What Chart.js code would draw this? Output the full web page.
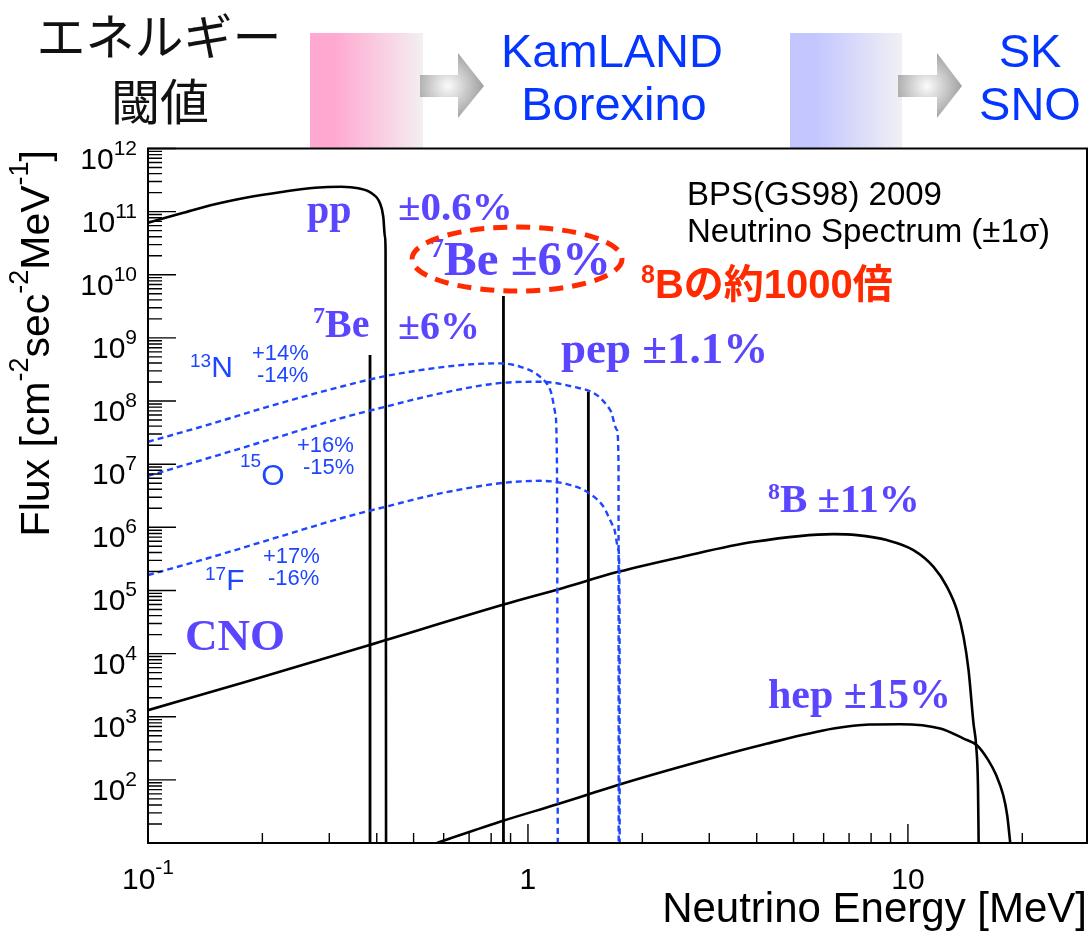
<!DOCTYPE html>
<html>
<head>
<meta charset="utf-8">
<script src="https://cdn.jsdelivr.net/npm/chart.js@4.4.1/dist/chart.umd.min.js"></script>
<style>
  html, body { margin: 0; padding: 0; background: #fff; }
  #wrap { width: 1090px; height: 936px; }
</style>
</head>
<body>
<div id="wrap"><canvas id="c" width="1090" height="936"></canvas></div>
<script>
// Solar neutrino spectra, BPS (GS98) 2009.
// Energy in MeV, flux in cm^-2 s^-1 MeV^-1 (lines: cm^-2 s^-1).
const ppEnergy  = [0.100, 0.1226, 0.150, 0.1836, 0.2247, 0.275, 0.323, 0.3576, 0.3878, 0.4078, 0.4161, 0.4204, 0.4219, 0.4232];
const ppFlux    = [6.67e10, 9.40e10, 1.31e11, 1.69e11, 2.05e11, 2.39e11, 2.48e11, 2.34e11, 1.95e11, 1.36e11, 8.3e10, 4.0e10, 2.47e10, 10];

const be7Energy = [0.384, 0.862];
const be7Flux   = [5.35e8, 4.6e9];
const pepEnergy = [1.442];
const pepFlux   = [1.40e8];

const n13Energy = [0.100, 0.1429, 0.2140, 0.3207, 0.4211, 0.5877, 0.7192, 0.8454, 0.9544, 1.077, 1.145, 1.180, 1.192, 1.198];
const n13Flux   = [2.26e7, 4.16e7, 8.63e7, 1.68e8, 2.48e8, 3.41e8, 3.85e8, 3.95e8, 3.49e8, 2.42e8, 1.49e8, 6.37e7, 1.03e7, 10];

const o15Energy = [0.100, 0.1429, 0.2140, 0.3207, 0.4211, 0.5877, 0.8627, 1.077, 1.318, 1.519, 1.647, 1.715, 1.731, 1.733];
const o15Flux   = [6.53e6, 1.23e7, 2.56e7, 5.31e7, 8.11e7, 1.32e8, 1.95e8, 2.02e8, 1.68e8, 1.24e8, 7.18e7, 3.47e7, 1.03e7, 10];

const f17Energy = [0.100, 0.1429, 0.2140, 0.3207, 0.4211, 0.5877, 0.8627, 1.077, 1.267, 1.430, 1.581, 1.680, 1.731, 1.742, 1.743];
const f17Flux   = [1.75e5, 3.21e5, 6.66e5, 1.38e6, 2.11e6, 3.44e6, 5.06e6, 5.45e6, 4.83e6, 3.65e6, 2.11e6, 1.02e6, 4.35e5, 4.87e4, 10];

const b8Energy  = [0.100, 0.1803, 0.3812, 0.868, 1.199, 1.728, 2.535, 3.94, 6.37, 7.34, 8.80, 10.34, 11.68, 12.67, 13.46, 14.01, 14.44, 14.88, 15.13, 15.29, 15.35];
const b8Flux    = [1.27e3, 3.56e3, 1.36e4, 6.05e4, 1.04e5, 1.97e5, 3.40e5, 5.89e5, 7.80e5, 7.52e5, 6.27e5, 4.35e5, 2.36e5, 1.14e5, 4.87e4, 1.84e4, 5.46e3, 780, 332, 77, 10];

const hepEnergy = [0.576, 0.856, 1.194, 1.439, 1.741, 2.605, 4.27, 6.37, 7.93, 9.54, 12.16, 14.01, 15.19, 16.27, 17.08, 17.82, 18.25, 18.59];
const hepFlux   = [10, 22.3, 41.0, 58.5, 84.2, 170, 376, 650, 752, 760, 650, 451, 353, 205, 118, 57.0, 27.5, 10];

// Axis ranges and tick labels
const xRange = [0.1, 29.6];
const yRange = [10, 1e12];
const xTickValues = [0.1, 1, 10];
const xTickTexts  = [['10', '-1'], ['1', ''], ['10', '']];
const yTickExponents = [2, 3, 4, 5, 6, 7, 8, 9, 10, 11, 12];
const yMajorExponents = [1, 2, 3, 4, 5, 6, 7, 8, 9, 10, 11, 12];

const SANS = '"Liberation Sans", Arial, Helvetica, sans-serif';
const SERIF = '"Liberation Serif", "Times New Roman", serif';
const CJK = '"Noto Sans CJK JP", "Noto Sans CJK SC", sans-serif';
const PURPLE = '#5a46ff';
const CNO_BLUE = '#1e46ff';
const RED = '#ff2a00';

function points(xs, ys) { return xs.map((x, i) => ({ x, y: ys[i] })); }
function spikes(xs, ys) { return xs.map((x, i) => [{ x, y: yRange[0] }, { x, y: ys[i] }]); }

const solid = { borderColor: '#000', borderWidth: 2.6, cubicInterpolationMode: 'monotone' };
const dotted = { borderColor: CNO_BLUE, borderWidth: 2.4, borderDash: [6, 4], cubicInterpolationMode: 'monotone' };

const datasets = [
  { label: '13N', data: points(n13Energy, n13Flux), ...dotted },
  { label: '15O', data: points(o15Energy, o15Flux), ...dotted },
  { label: '17F', data: points(f17Energy, f17Flux), ...dotted },
  { label: 'pp', data: points(ppEnergy, ppFlux), ...solid },
  { label: '8B', data: points(b8Energy, b8Flux), ...solid },
  { label: 'hep', data: points(hepEnergy, hepFlux), ...solid },
  ...spikes(be7Energy, be7Flux).map(d => ({ label: '7Be', data: d, borderColor: '#000', borderWidth: 2.8 })),
  ...spikes(pepEnergy, pepFlux).map(d => ({ label: 'pep', data: d, borderColor: '#000', borderWidth: 2.8 }))
];

// Draws a run of text pieces (for superscripts); returns total width.
function textRun(ctx, x, y, parts, align) {
  let w = 0;
  parts.forEach(p => { ctx.font = p.f; p.w = ctx.measureText(p.t).width; w += p.w; });
  let cx = align === 'right' ? x - w : align === 'center' ? x - w / 2 : x;
  ctx.textAlign = 'left';
  ctx.textBaseline = 'alphabetic';
  parts.forEach(p => { ctx.font = p.f; ctx.fillText(p.t, cx, y - (p.up || 0)); cx += p.w; });
  return w;
}

function gradBox(ctx, x0, x1, y0, y1, c0, c1) {
  const g = ctx.createLinearGradient(x0, 0, x1, 0);
  g.addColorStop(0, c0);
  g.addColorStop(0.22, c0);
  g.addColorStop(1, c1);
  ctx.fillStyle = g;
  ctx.fillRect(x0, y0, x1 - x0, y1 - y0);
}

function grayArrow(ctx, x0, x1, x2, yc) {
  ctx.beginPath();
  ctx.moveTo(x0, yc - 11);
  ctx.lineTo(x1, yc - 11);
  ctx.lineTo(x1, yc - 33);
  ctx.lineTo(x2, yc);
  ctx.lineTo(x1, yc + 32);
  ctx.lineTo(x1, yc + 11);
  ctx.lineTo(x0, yc + 11);
  ctx.closePath();
  const g = ctx.createRadialGradient(x1 - 10, yc, 0, x1 - 10, yc, 42);
  g.addColorStop(0, '#fbfbfb');
  g.addColorStop(1, '#8e8e8e');
  ctx.fillStyle = g;
  ctx.fill();
}

const decorations = {
  id: 'decorations',
  beforeDraw(chart) {
    const { ctx, chartArea: a } = chart;
    ctx.save();
    ctx.fillStyle = '#fff';
    ctx.fillRect(0, 0, chart.width, chart.height);

    // Detector threshold banner
    gradBox(ctx, 310, 423, 33, a.top, '#ffa9d1', '#f3eff1');
    gradBox(ctx, 790, 902, 33, a.top, '#c3c6ff', '#f0f0f4');
    grayArrow(ctx, 420, 458, 484, 86);
    grayArrow(ctx, 898, 937, 962, 86);

    ctx.fillStyle = '#111';
    ctx.font = '49px ' + CJK;
    ctx.textAlign = 'center';
    ctx.textBaseline = 'middle';
    ctx.fillText('エネルギー', 159, 36);
    ctx.fillText('閾値', 160, 101);

    ctx.fillStyle = '#0536ff';
    ctx.font = '47px ' + SANS;
    ctx.textBaseline = 'alphabetic';
    ctx.fillText('KamLAND', 612, 67);
    ctx.fillText('Borexino', 614, 120);
    ctx.fillText('SK', 1030, 67);
    ctx.fillText('SNO', 1030, 120);
    ctx.restore();
  },
  afterDraw(chart) {
    const { ctx, chartArea: a, scales: { x, y } } = chart;
    ctx.save();

    // Frame
    ctx.strokeStyle = '#000';
    ctx.lineWidth = 2;
    ctx.strokeRect(a.left, a.top, a.right - a.left, a.bottom - a.top);

    // Inner tick marks (log decades with 2..9 subdivisions)
    ctx.lineWidth = 1.4;
    ctx.beginPath();
    yMajorExponents.forEach(e => {
      const py = y.getPixelForValue(Math.pow(10, e));
      ctx.moveTo(a.left, py); ctx.lineTo(a.left + 28, py);
      if (e < 12) {
        for (let m = 2; m <= 9; m++) {
          const qy = y.getPixelForValue(m * Math.pow(10, e));
          ctx.moveTo(a.left, qy); ctx.lineTo(a.left + 14, qy);
        }
      }
    });
    [-1, 0, 1].forEach(e => {
      const d = Math.pow(10, e);
      const px = x.getPixelForValue(d);
      ctx.moveTo(px, a.bottom); ctx.lineTo(px, a.bottom - 19);
      for (let m = 2; m <= 9; m++) {
        const v = m * d;
        if (v > xRange[1]) break;
        const qx = x.getPixelForValue(v);
        ctx.moveTo(qx, a.bottom); ctx.lineTo(qx, a.bottom - 10);
      }
    });
    ctx.stroke();

    // Tick labels
    ctx.fillStyle = '#000';
    yTickExponents.forEach(e => {
      const py = y.getPixelForValue(Math.pow(10, e));
      ctx.font = '21px ' + SANS;
      const ew = ctx.measureText(String(e)).width;
      textRun(ctx, 137 - ew, py + 20, [{ t: '10', f: '30px ' + SANS }], 'right');
      ctx.font = '21px ' + SANS;
      ctx.fillText(String(e), 137 - ew, py + 6);
    });
    xTickValues.forEach((v, i) => {
      const px = x.getPixelForValue(v);
      const [base, exp] = xTickTexts[i];
      const parts = [{ t: base, f: '30px ' + SANS }];
      if (exp) parts.push({ t: exp, f: '21px ' + SANS, up: 15 });
      textRun(ctx, px, 889, parts, 'center');
    });

    // Y axis title (rotated)
    ctx.save();
    ctx.translate(49, 150);
    ctx.rotate(-Math.PI / 2);
    const big = '41px ' + SANS, sup = '27px ' + SANS;
    textRun(ctx, 0, 0, [
      { t: 'Flux [cm', f: big }, { t: '-2', f: sup, up: 21 },
      { t: 'sec', f: big }, { t: '-2', f: sup, up: 21 },
      { t: 'MeV', f: big }, { t: '-1', f: sup, up: 21 },
      { t: ']', f: big }
    ], 'right');
    ctx.restore();

    // Source labels
    ctx.fillStyle = PURPLE;
    const pb = 'bold 40px ' + SERIF, ps = 'bold 24px ' + SERIF;
    textRun(ctx, 307, 223, [{ t: 'pp', f: pb }], 'left');
    textRun(ctx, 398, 220, [{ t: '±0.6%', f: 'bold 41px ' + SERIF }], 'left');
    textRun(ctx, 313, 337, [{ t: '7', f: ps, up: 14 }, { t: 'Be', f: pb }], 'left');
    textRun(ctx, 398, 339, [{ t: '±6%', f: pb }], 'left');
    textRun(ctx, 430, 275, [{ t: '7', f: 'bold 28px ' + SERIF, up: 18 }, { t: 'Be ±6%', f: 'bold 49px ' + SERIF }], 'left');
    textRun(ctx, 561, 363, [{ t: 'pep ±1.1%', f: 'bold 45px ' + SERIF }], 'left');
    textRun(ctx, 768, 512, [{ t: '8', f: ps, up: 13 }, { t: 'B ±11%', f: 'bold 41px ' + SERIF }], 'left');
    textRun(ctx, 768, 708, [{ t: 'hep ±15%', f: 'bold 42px ' + SERIF }], 'left');
    textRun(ctx, 185, 650, [{ t: 'CNO', f: 'bold 45px ' + SERIF }], 'left');

    // CNO components
    ctx.fillStyle = CNO_BLUE;
    const cb = '30px ' + SANS, cs = '19px ' + SANS, cp = '22px ' + SANS;
    textRun(ctx, 190, 377, [{ t: '13', f: cs, up: 10 }, { t: 'N', f: cb }], 'left');
    textRun(ctx, 252, 360, [{ t: '+14%', f: cp }], 'left');
    textRun(ctx, 257, 382, [{ t: '-14%', f: cp }], 'left');
    textRun(ctx, 240, 485, [{ t: '15', f: cs, up: 18 }, { t: 'O', f: cb }], 'left');
    textRun(ctx, 297, 452, [{ t: '+16%', f: cp }], 'left');
    textRun(ctx, 303, 474, [{ t: '-15%', f: cp }], 'left');
    textRun(ctx, 205, 590, [{ t: '17', f: cs, up: 10 }, { t: 'F', f: cb }], 'left');
    textRun(ctx, 263, 563, [{ t: '+17%', f: cp }], 'left');
    textRun(ctx, 268, 585, [{ t: '-16%', f: cp }], 'left');

    // Model caption
    ctx.fillStyle = '#000';
    textRun(ctx, 687, 205, [{ t: 'BPS(GS98) 2009', f: '33px ' + SANS }], 'left');
    textRun(ctx, 687, 242, [{ t: 'Neutrino Spectrum (±1σ)', f: '33px ' + SANS }], 'left');

    // Highlight of the 7Be line
    ctx.strokeStyle = RED;
    ctx.lineWidth = 5;
    ctx.setLineDash([14, 9]);
    ctx.beginPath();
    ctx.ellipse(517, 259, 105, 32, 0, 0, Math.PI * 2);
    ctx.stroke();
    ctx.setLineDash([]);
    ctx.fillStyle = RED;
    textRun(ctx, 641, 298, [
      { t: '8', f: 'bold 25px ' + SANS, up: 15 },
      { t: 'Bの約1000倍', f: 'bold 40px ' + SANS + ', ' + CJK }
    ], 'left');

    ctx.restore();
  }
};

new Chart(document.getElementById('c'), {
  type: 'line',
  data: { datasets },
  options: {
    responsive: false,
    animation: false,
    devicePixelRatio: 1,
    layout: { padding: { top: 148.5, right: 3, left: 0, bottom: 0 } },
    elements: { point: { radius: 0, hoverRadius: 0 }, line: { fill: false } },
    plugins: { legend: { display: false }, tooltip: { enabled: false } },
    scales: {
      x: {
        type: 'logarithmic', min: xRange[0], max: xRange[1],
        grid: { display: false }, border: { display: false }, ticks: { display: false },
        title: {
          display: true, text: 'Neutrino Energy [MeV]', align: 'end', color: '#000',
          font: { family: SANS, size: 42 }, padding: { top: 0, bottom: 0 }
        },
        afterFit: s => { s.height = 93; }
      },
      y: {
        type: 'logarithmic', min: yRange[0], max: yRange[1],
        grid: { display: false }, border: { display: false }, ticks: { display: false },
        afterFit: s => { s.width = 148; }
      }
    }
  },
  plugins: [decorations]
});
</script>
</body>
</html>
